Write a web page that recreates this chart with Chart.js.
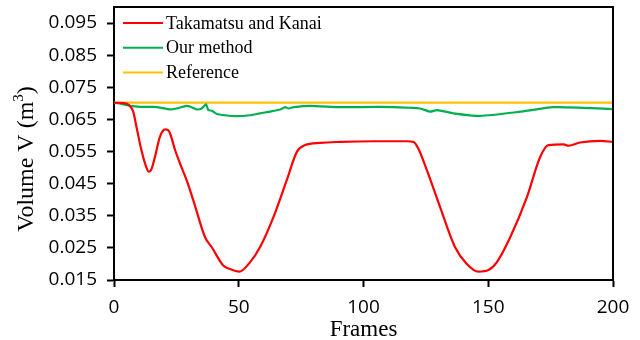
<!DOCTYPE html>
<html>
<head>
<meta charset="utf-8">
<script src="https://cdn.jsdelivr.net/npm/chart.js@4.4.0/dist/chart.umd.min.js"></script>
<style>
  html, body { margin: 0; padding: 0; background: #fff; }
  #wrap { width: 640px; height: 340px; position: relative; }
</style>
</head>
<body>
<div id="wrap"><canvas id="chart" width="640" height="340"></canvas></div>
<script>
// volume per frame

const X_TICKS = [0, 50, 100, 150, 200];
const Y_TICKS = [0.015, 0.025, 0.035, 0.045, 0.055, 0.065, 0.075, 0.085, 0.095];

const LABELS = ['Takamatsu and Kanai', 'Our method', 'Reference'];

const redFrames = [0, 4, 6, 7.7, 9, 11, 13, 14, 15, 16.4, 18.4, 20.5, 22, 24.5, 27, 29, 31.8, 36.5, 39.2, 43.8, 46.5, 50.2, 54.5, 58.5, 63.9, 69.2, 73.3, 76.6, 82.6, 90.6, 104, 117.4, 120, 122, 125.4, 130.7, 136.7, 141.4, 146.1, 150.1, 153.4, 158.8, 165.5, 170.8, 174.1, 180.2, 182.2, 186.8, 194.9, 200];
const redValues = [0.0702, 0.0701, 0.0695, 0.0674, 0.0627, 0.0554, 0.0500, 0.0487, 0.0495, 0.0533, 0.0596, 0.0619, 0.0614, 0.0554, 0.0502, 0.0463, 0.0398, 0.0283, 0.0252, 0.0195, 0.0184, 0.0176, 0.0205, 0.0252, 0.0346, 0.0460, 0.0549, 0.0570, 0.0577, 0.0580, 0.0582, 0.0582, 0.0580, 0.0559, 0.0492, 0.0377, 0.0252, 0.0200, 0.0176, 0.0181, 0.0205, 0.0283, 0.0408, 0.0533, 0.0570, 0.0572, 0.0568, 0.0578, 0.0583, 0.0580];

const greenFrames = [0, 3, 6.4, 10.4, 15.8, 19, 22.5, 25.1, 29.1, 31.1, 33.1, 35.1, 36.9, 37.8, 39.2, 41.2, 44.5, 49.2, 54.5, 58.5, 63, 66.6, 68.6, 69.9, 72, 78.6, 90.6, 106.7, 122.7, 126.7, 129.4, 136, 146.8, 162.8, 176.1, 188, 200];
const greenValues = [0.0702, 0.0698, 0.0692, 0.0689, 0.0689, 0.0686, 0.0681, 0.0684, 0.0692, 0.0688, 0.0681, 0.0684, 0.0697, 0.0679, 0.0677, 0.0667, 0.0663, 0.0660, 0.0663, 0.0669, 0.0675, 0.0681, 0.0688, 0.0684, 0.0688, 0.0692, 0.0688, 0.0689, 0.0684, 0.0674, 0.0679, 0.0669, 0.0661, 0.0674, 0.0688, 0.0686, 0.0682];

const refFrames = [0, 200];
const refValues = [0.0702, 0.0702];

const COLORS = ['#ff0000', '#00b050', '#ffc000'];

const TICK_FONT = { family: '"Open Sans", sans-serif', size: 19 };
const SERIF = '"Liberation Serif", "Times New Roman", serif';

function pts(xs, ys) {
  return xs.map((x, i) => ({ x: x, y: ys[i] }));
}

// box around the plot + axis titles + legend inside the plot
const decor = {
  id: 'decor',
  afterDatasetsDraw(chart) {
    const { ctx, chartArea: a } = chart;
    ctx.save();
    ctx.strokeStyle = '#000';
    ctx.lineWidth = 2;
    ctx.beginPath();
    ctx.moveTo(a.left, a.top);
    ctx.lineTo(a.right, a.top);
    ctx.lineTo(a.right, a.bottom);
    ctx.stroke();

    // legend
    ctx.font = '18px ' + SERIF;
    ctx.textBaseline = 'middle';
    ctx.textAlign = 'left';
    chart.data.datasets.forEach((ds, i) => {
      const y = 23 + i * 24.7;
      ctx.strokeStyle = ds.borderColor;
      ctx.lineWidth = 2;
      ctx.beginPath();
      ctx.moveTo(123, y);
      ctx.lineTo(163, y);
      ctx.stroke();
      ctx.fillStyle = '#000';
      ctx.fillText(ds.label, 166, y + 1);
    });

    // x title
    ctx.font = '23px ' + SERIF;
    ctx.textAlign = 'center';
    ctx.textBaseline = 'alphabetic';
    ctx.fillText('Frames', (a.left + a.right) / 2, 336);

    // y title with superscript
    ctx.translate(33, 159);
    ctx.rotate(-Math.PI / 2);
    const big = '24px ' + SERIF, small = '15px ' + SERIF;
    const parts = [['Volume V (m', big, 0], ['3', small, -10], [')', big, 0]];
    let w = 0;
    parts.forEach(p => { ctx.font = p[1]; w += ctx.measureText(p[0]).width; });
    let x = -w / 2;
    ctx.textAlign = 'left';
    parts.forEach(p => {
      ctx.font = p[1];
      ctx.fillText(p[0], x, p[2]);
      x += ctx.measureText(p[0]).width;
    });
    ctx.restore();
  }
};

new Chart(document.getElementById('chart'), {
  type: 'line',
  data: {
    datasets: [
      { label: LABELS[0], data: pts(redFrames, redValues), borderColor: COLORS[0], borderWidth: 2.2, pointRadius: 0, cubicInterpolationMode: 'monotone' },
      { label: LABELS[1], data: pts(greenFrames, greenValues), borderColor: COLORS[1], borderWidth: 2.2, pointRadius: 0, tension: 0.2 },
      { label: LABELS[2], data: pts(refFrames, refValues), borderColor: COLORS[2], borderWidth: 2.2, pointRadius: 0 }
    ]
  },
  options: {
    responsive: false,
    animation: false,
    events: [],
    layout: { padding: { top: 7, right: 27, left: 0, bottom: 0 } },
    plugins: { legend: { display: false }, tooltip: { enabled: false } },
    scales: {
      x: {
        type: 'linear',
        min: 0, max: 200,
        afterBuildTicks: s => { s.ticks = X_TICKS.map(v => ({ value: v })); },
        afterFit: s => { s.height = 60; s.paddingLeft = 0; s.paddingRight = 0; },
        grid: { drawOnChartArea: false, tickLength: 7, tickColor: '#000', tickWidth: 2 },
        border: { color: '#000', width: 2 },
        ticks: { color: '#000', font: TICK_FONT, padding: 9, maxRotation: 0 }
      },
      y: {
        min: 0.015, max: 0.1,
        afterBuildTicks: s => { s.ticks = Y_TICKS.map(v => ({ value: v })); },
        afterFit: s => { s.width = 114; s.paddingTop = 0; s.paddingBottom = 0; },
        grid: { drawOnChartArea: false, tickLength: 7, tickColor: '#000', tickWidth: 2 },
        border: { color: '#000', width: 2 },
        ticks: { color: '#000', font: TICK_FONT, padding: 10, callback: v => v.toFixed(3) }
      }
    }
  },
  plugins: [decor]
});
</script>
</body>
</html>
